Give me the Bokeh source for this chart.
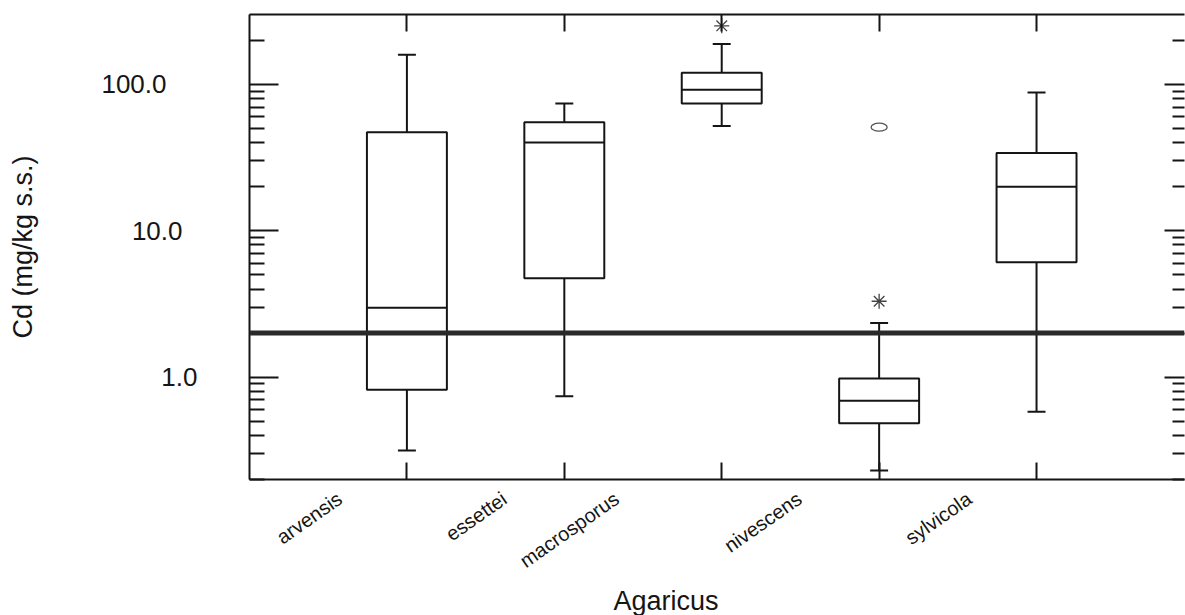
import math
from bokeh.plotting import figure
from bokeh.models import (Range1d, LogAxis, LinearAxis, FixedTicker, Span, Title,
                          CustomJSTickFormatter)
from bokeh.embed import file_html
from bokeh.resources import INLINE

# ---------------- data ----------------
categories = ["arvensis", "essettei", "macrosporus", "nivescens", "sylvicola"]
positions = [1, 2, 3, 4, 5]
whisker_low = [0.315, 0.74, 52, 0.23, 0.58]
q1 = [0.82, 4.74, 74, 0.485, 6.1]
median = [2.98, 40, 92, 0.69, 20]
q3 = [47, 55, 120, 0.98, 34]
whisker_high = [159, 74, 189, 2.34, 88]
star_x = [3, 4]
star_y = [251, 3.3]
circle_x = [4]
circle_y = [51]
limit_value = 2.0
y_ticks = [1, 10, 100]
y_tick_labels = ["1.0", "10.0", "100.0"]
y_title = "Cd (mg/kg s.s.)"
x_title = "Agaricus"

# ---------------- style ----------------
FONT = "Liberation Sans"
INK = "#151515"
BOX_HALF = 0.254
CAP_HALF = 0.057
label_dx = [-0.427, -0.380, -0.668, -0.507, -0.427]   # where each slanted label ends (data units)
tick_label_standoff = [52, -24, -38]                    # staggered y tick labels (one axis each)

p = figure(width=1185, height=615,
           x_range=Range1d(0, 5.94), y_range=Range1d(0.2, 300),
           y_axis_type="log", x_axis_location=None, y_axis_location=None,
           output_backend="svg", toolbar_location=None,
           min_border_left=249, min_border_right=1, min_border_top=14, min_border_bottom=133)
p.outline_line_color = None
p.background_fill_color = "white"
p.border_fill_color = "white"
p.grid.visible = False

empty = CustomJSTickFormatter(code="return ''")
minor = [m * d for d in [0.1, 1, 10] for m in range(2, 10)] + [200]

def style_axis(ax, tin, mtin):
    ax.major_tick_in = tin
    ax.major_tick_out = 0
    ax.minor_tick_in = mtin
    ax.minor_tick_out = 0
    ax.major_label_standoff = 0
    ax.major_label_text_font_size = "0px"
    ax.axis_line_width = 2
    ax.axis_line_color = INK
    ax.major_tick_line_width = 2
    ax.minor_tick_line_width = 2
    ax.major_tick_line_color = INK
    ax.minor_tick_line_color = INK

# left: three stacked log axes, each carrying one tick label (the labels are staggered)
for i, (t, lab, so) in enumerate(zip(y_ticks, y_tick_labels, tick_label_standoff)):
    ax = LogAxis(ticker=FixedTicker(ticks=y_ticks, minor_ticks=minor if i == 0 else []),
                 formatter=CustomJSTickFormatter(args=dict(t=t, lab=lab),
                                                 code="return tick == t ? lab : ''"))
    style_axis(ax, 29, 15)
    if i > 0:
        ax.axis_line_color = None
        ax.major_tick_line_color = None
        ax.minor_tick_line_color = None
        ax.major_tick_in = 0
        ax.minor_tick_in = 0
    ax.major_label_standoff = so
    ax.major_label_text_font = FONT
    ax.major_label_text_font_size = "26px"
    ax.major_label_text_color = INK
    if i == len(y_ticks) - 1:
        ax.axis_label = y_title
        ax.axis_label_text_font = FONT
        ax.axis_label_text_font_size = "27px"
        ax.axis_label_text_font_style = "normal"
        ax.axis_label_text_color = INK
        ax.axis_label_standoff = 60
    p.add_layout(ax, "left")

right = LogAxis(ticker=FixedTicker(ticks=y_ticks, minor_ticks=minor), formatter=empty)
style_axis(right, 20, 12)
right.axis_line_color = None
p.add_layout(right, "right")

bottom = LinearAxis(ticker=FixedTicker(ticks=positions, minor_ticks=[]), formatter=empty)
style_axis(bottom, 17, 0)
p.add_layout(bottom, "below")

# slanted category labels (second bottom axis, no line/ticks)
cat_axis = LinearAxis(ticker=FixedTicker(ticks=[x + dx for x, dx in zip(positions, label_dx)],
                                         minor_ticks=[]),
                      formatter=CustomJSTickFormatter(args=dict(names=categories),
                                                      code="return names[index]"))
cat_axis.axis_line_color = None
cat_axis.major_tick_line_color = None
cat_axis.minor_tick_line_color = None
cat_axis.major_tick_in = 0
cat_axis.major_tick_out = 0
cat_axis.minor_tick_in = 0
cat_axis.minor_tick_out = 0
cat_axis.major_label_standoff = 17
cat_axis.major_label_orientation = math.radians(35)
cat_axis.major_label_text_font = FONT
cat_axis.major_label_text_font_size = "20px"
cat_axis.major_label_text_color = INK
p.add_layout(cat_axis, "below")

p.add_layout(Title(text=x_title, align="left", offset=364, standoff=0,
                   text_font=FONT, text_font_size="27px", text_font_style="normal",
                   text_color=INK), "below")

top = LinearAxis(ticker=FixedTicker(ticks=positions, minor_ticks=[]), formatter=empty)
style_axis(top, 17, 0)
p.add_layout(top, "above")

# whiskers
p.segment(x0=positions, y0=q3, x1=positions, y1=whisker_high, line_color=INK, line_width=2)
p.segment(x0=positions, y0=q1, x1=positions, y1=whisker_low, line_color=INK, line_width=2)
p.segment(x0=[x - CAP_HALF for x in positions], y0=whisker_high,
          x1=[x + CAP_HALF for x in positions], y1=whisker_high, line_color=INK, line_width=2)
p.segment(x0=[x - CAP_HALF for x in positions], y0=whisker_low,
          x1=[x + CAP_HALF for x in positions], y1=whisker_low, line_color=INK, line_width=2)
# boxes
p.vbar(x=positions, width=2 * BOX_HALF, bottom=q1, top=q3,
       fill_color="white", line_color=INK, line_width=2)
p.segment(x0=[x - BOX_HALF for x in positions], y0=median,
          x1=[x + BOX_HALF for x in positions], y1=median, line_color=INK, line_width=2)
# outliers
p.scatter(x=star_x, y=star_y, marker="asterisk", size=15, line_color="#444444", line_width=1.3)
p.ellipse(x=circle_x, y=circle_y, width=16, height=8, width_units="screen",
          height_units="screen", fill_color=None, line_color="#555555", line_width=1.3)

# limit line
p.add_layout(Span(location=limit_value, dimension="width", line_color="#2a2a2a", line_width=5))

open("out.html", "w").write(file_html(p, INLINE))
